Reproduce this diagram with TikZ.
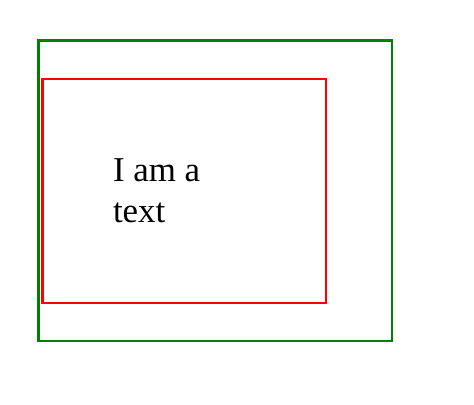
\documentclass[tikz,border=0pt]{standalone}
\usepackage{fontspec}
\setmainfont{Liberation Serif}
\definecolor{grn}{RGB}{0,128,0}
\definecolor{rd}{RGB}{255,0,0}
\tikzset{
  boxshape/.style={rectangle, line width=2.8bp, inner sep=0pt, outer sep=0pt, anchor=north west},
  label text/.style={inner sep=0pt, outer sep=0pt, align=left, anchor=north west, font=\fontsize{35}{41}\selectfont}
}
\begin{document}
\begin{tikzpicture}[x=1bp,y=-1bp]
\useasboundingbox (0,0) rectangle (474,404);
\node[boxshape, draw=grn, minimum width=353.5bp, minimum height=300.5bp] (outer) at (38.5,40.5) {};
\node[boxshape, draw=rd, minimum width=283.5bp, minimum height=224bp] (inner) at (42.5,79) {};
\node[label text] (txt) at (113,158.5) {I am a\\text};
\end{tikzpicture}
\end{document}
